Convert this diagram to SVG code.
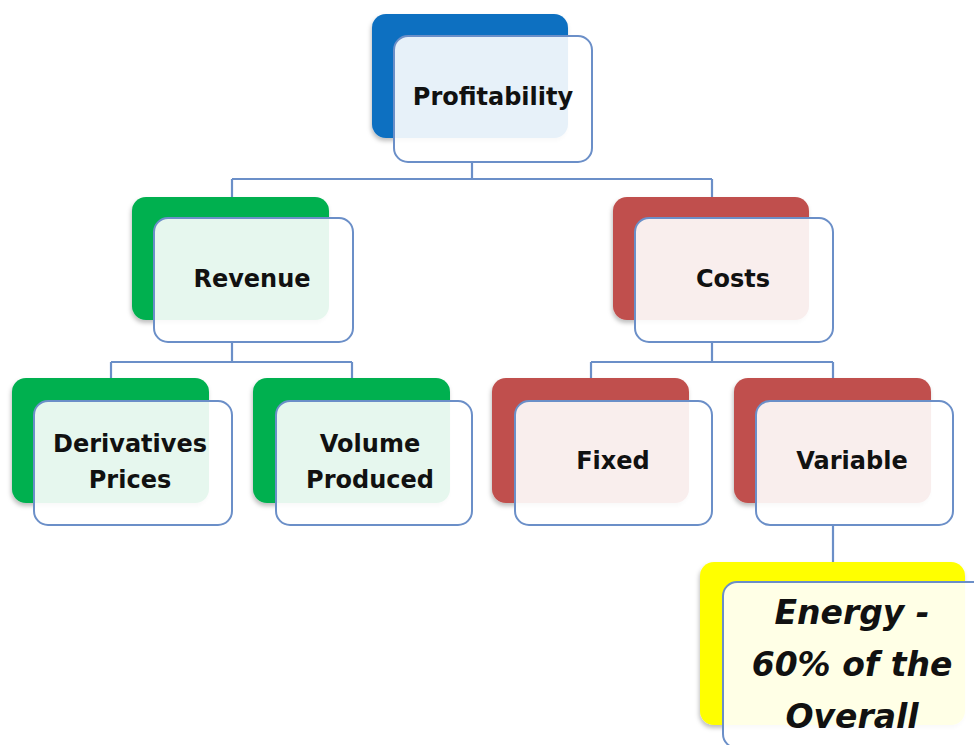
<svg xmlns="http://www.w3.org/2000/svg" width="974" height="745" viewBox="0 0 974 745">
<defs>
<filter id="sh" x="-10%" y="-10%" width="120%" height="125%">
<feDropShadow dx="-1" dy="3" stdDeviation="2" flood-color="#000" flood-opacity="0.25"/>
</filter>
</defs>
<style>
.back{filter:url(#sh)}
.blue{fill:#0b6fc1}
.green{fill:#00b050}
.red{fill:#c0504d}
.yellow{fill:#ffff00}
.front{fill:#ffffff;fill-opacity:0.9;stroke:#6b8fc8;stroke-width:2}
.conn{fill:none;stroke:#6b8fc8;stroke-width:2.2}
.lbl{font-family:"DejaVu Sans",Verdana,sans-serif;font-weight:bold;font-size:24px;fill:#111;text-anchor:middle}
.big{font-family:"DejaVu Sans",Verdana,sans-serif;font-weight:bold;font-style:italic;font-size:33px;fill:#111;text-anchor:middle}
</style>
<rect width="974" height="745" fill="#ffffff"/>
<g id="connectors">
<path class="conn" d="M472,162 V179 M232,179 H712 M232,179 V200 M712,179 V200"/>
<path class="conn" d="M232,342 V362 M111,362 H352 M111,362 V380 M352,362 V380"/>
<path class="conn" d="M712,342 V362 M591,362 H833 M591,362 V380 M833,362 V380"/>
<path class="conn" d="M833,525 V563"/>
</g>
<g id="profitability">
<rect class="back blue" x="372" y="14" width="196" height="124" rx="14"/>
<rect class="front" x="394" y="36" width="198" height="126" rx="14"/>
<text class="lbl" x="493" y="105">Profitability</text>
</g>
<g id="revenue">
<rect class="back green" x="132" y="197" width="197" height="123" rx="14"/>
<rect class="front" x="154" y="218" width="199" height="124" rx="14"/>
<text class="lbl" x="252" y="287">Revenue</text>
</g>
<g id="costs">
<rect class="back red" x="613" y="197" width="196" height="123" rx="14"/>
<rect class="front" x="635" y="218" width="198" height="124" rx="14"/>
<text class="lbl" x="733" y="287">Costs</text>
</g>
<g id="derivatives-prices">
<rect class="back green" x="12" y="378" width="197" height="125" rx="14"/>
<rect class="front" x="34" y="401" width="198" height="124" rx="14"/>
<text class="lbl" x="130" y="452">Derivatives</text>
<text class="lbl" x="130" y="488">Prices</text>
</g>
<g id="volume-produced">
<rect class="back green" x="253" y="378" width="197" height="125" rx="14"/>
<rect class="front" x="276" y="401" width="196" height="124" rx="14"/>
<text class="lbl" x="370" y="452">Volume</text>
<text class="lbl" x="370" y="488">Produced</text>
</g>
<g id="fixed">
<rect class="back red" x="492" y="378" width="197" height="125" rx="14"/>
<rect class="front" x="515" y="401" width="197" height="124" rx="14"/>
<text class="lbl" x="613" y="469">Fixed</text>
</g>
<g id="variable">
<rect class="back red" x="734" y="378" width="197" height="125" rx="14"/>
<rect class="front" x="756" y="401" width="197" height="124" rx="14"/>
<text class="lbl" x="852" y="469">Variable</text>
</g>
<g id="energy">
<rect class="back yellow" x="700" y="562" width="265" height="163" rx="14"/>
<rect class="front" x="723" y="582" width="270" height="166" rx="14"/>
<text class="big" x="852" y="624">Energy -</text>
<text class="big" x="852" y="676">60% of the</text>
<text class="big" x="852" y="728">Overall</text>
</g>
</svg>
